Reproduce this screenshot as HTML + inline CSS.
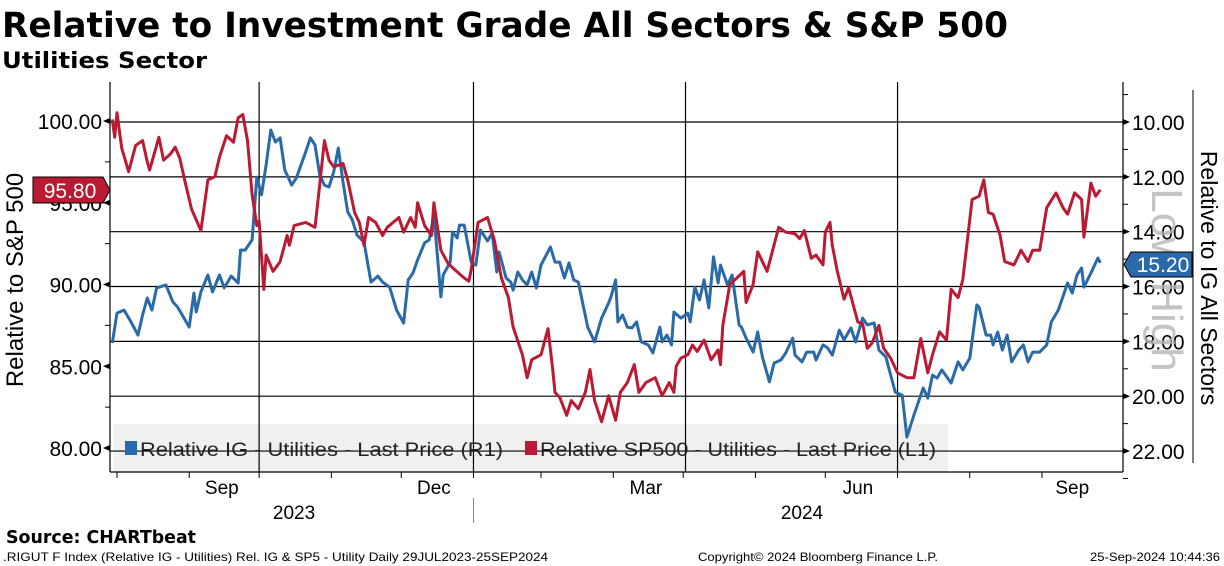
<!DOCTYPE html>
<html><head><meta charset="utf-8"><style>
body{margin:0;background:#fff;}
svg{display:block;font-family:"Liberation Sans","DejaVu Sans",sans-serif;}
</style></head><body>
<svg id="chart" width="1224" height="566" viewBox="0 0 1224 566" xmlns="http://www.w3.org/2000/svg">
<text x="2" y="37" font-size="35" font-weight="bold" font-family="DejaVu Sans, sans-serif" textLength="1006" lengthAdjust="spacingAndGlyphs">Relative to Investment Grade All Sectors &amp; S&amp;P 500</text>
<text x="2" y="68" font-size="22" font-weight="bold" font-family="DejaVu Sans, sans-serif" textLength="205" lengthAdjust="spacingAndGlyphs">Utilities Sector</text>
<rect x="113" y="424" width="835" height="48" rx="3" fill="#f0f0f0"/>
<g id="grid"></g>
<g id="axes"></g>
<g id="series"></g>
<g>
<rect x="125" y="441" width="12" height="14" fill="#2a6aa8"/>
<text x="140" y="456" font-size="19" fill="#222" textLength="363" lengthAdjust="spacingAndGlyphs">Relative IG - Utilities - Last Price (R1)</text>
<rect x="525" y="441" width="12" height="14" fill="#bb1a33"/>
<text x="540" y="456" font-size="19" fill="#222" textLength="396" lengthAdjust="spacingAndGlyphs">Relative SP500 - Utilities - Last Price (L1)</text>
</g>
<text transform="translate(23,280) rotate(-90)" text-anchor="middle" font-size="24">Relative to S&amp;P 500</text>
<text transform="translate(1201,278) rotate(90)" text-anchor="middle" font-size="23">Relative to IG All Sectors</text>
<line x1="1193" y1="90" x2="1193" y2="463" stroke="#000" stroke-width="1"/>
<text transform="translate(1152,280) rotate(90)" text-anchor="middle" font-size="44" fill="#b5b5b5" fill-opacity="0.8">Low  High</text>
<g>
<path d="M33,177 H103 L110,190 L103,203 H33 Z" fill="#bb1a33" stroke="#000" stroke-width="1"/>
<text x="70" y="198" text-anchor="middle" font-size="21" fill="#fff">95.80</text>
</g>
<g>
<path d="M1192,252 H1131 L1124,264.5 L1131,277 H1192 Z" fill="#2a6aa8" stroke="#000" stroke-width="1"/>
<text x="1163" y="272" text-anchor="middle" font-size="21" fill="#fff">15.20</text>
</g>
<text x="6" y="543" font-size="18" font-weight="bold" font-family="DejaVu Sans, sans-serif" textLength="190" lengthAdjust="spacingAndGlyphs">Source: CHARTbeat</text>
<text x="3" y="561" font-size="12" textLength="545" lengthAdjust="spacingAndGlyphs">.RIGUT F Index (Relative IG - Utilities) Rel. IG &amp; SP5 - Utility  Daily 29JUL2023-25SEP2024</text>
<text x="698" y="561" font-size="12" textLength="240" lengthAdjust="spacingAndGlyphs">Copyright© 2024 Bloomberg Finance L.P.</text>
<text x="1090" y="561" font-size="12" textLength="130" lengthAdjust="spacingAndGlyphs">25-Sep-2024 10:44:36</text>
</svg>
<script>
// x: day offset since 29 Jul 2023
const spDays = [1,2,3,5,8,11,14,16,17,21,23,26,28,30,32,35,39,42,45,47,50,53,55,57,59,61,63,64,66,67,70,73,76,77,79,84,88,90,92,94,96,100,102,105,107,109,111,114,117,119,124,126,129,131,132,135,138,139,142,145,148,152,154,155,158,162,165,168,171,173,177,179,181,185,188,190,191,193,196,198,201,204,206,208,211,214,217,219,222,225,227,230,234,237,240,242,243,245,248,250,252,255,258,261,262,263,266,269,272,273,276,278,282,287,290,294,296,298,301,303,306,307,309,310,312,315,317,321,323,325,327,330,332,335,338,342,345,348,351,353,356,359,361,364,366,370,373,375,377,379,382,384,388,391,394,396,399,402,406,409,411,414,417,418,421,423,425];
const spValues = [100.1,99.0,100.5,98.35,96.9,98.5,98.8,97.5,97.0,99.0,97.6,98.0,98.4,97.7,96.4,94.6,93.3,96.4,96.6,97.8,99.1,98.7,100.2,100.4,98.8,95.5,93.6,93.9,89.7,91.8,90.8,91.4,93.0,92.4,93.6,93.8,93.5,96.1,98.8,97.6,97.2,97.4,96.4,94.4,93.8,92.4,94.1,93.8,93.0,93.5,94.1,93.2,94.1,93.5,95.0,93.6,93.0,95.0,92.1,91.3,90.9,90.4,90.2,90.9,93.8,94.1,92.7,90.4,89.2,87.4,85.7,84.3,85.4,85.7,87.3,84.8,83.4,83.1,82.0,82.9,82.4,83.4,84.8,82.9,81.6,83.2,81.7,83.4,84.0,85.1,83.4,84.0,84.3,83.2,84.0,83.4,85.0,85.5,85.7,86.3,85.9,86.6,85.4,86.0,85.1,87.5,90.0,90.4,90.8,88.9,90.0,92.0,90.8,93.5,93.2,93.1,92.8,93.3,91.6,91.8,91.2,93.2,93.8,92.4,90.9,89.1,89.8,87.7,87.6,86.1,86.4,87.5,86.1,85.5,84.6,84.3,84.3,86.7,84.6,85.7,87.1,86.6,89.7,89.2,90.3,95.2,95.4,96.4,94.4,94.3,93.0,91.4,91.2,92.1,91.4,92.1,92.1,94.7,95.6,94.7,94.3,95.6,95.2,92.9,96.2,95.4,95.8];
const igDays = [1,3,6,9,12,14,16,18,20,24,27,29,31,34,36,37,39,42,44,47,49,52,55,56,58,61,63,65,67,69,71,73,75,78,80,84,86,88,90,92,94,96,98,100,102,104,106,109,112,115,117,120,123,126,128,130,132,135,137,139,142,143,146,147,149,150,152,155,157,159,162,164,166,167,170,172,173,175,177,179,181,183,185,189,191,193,195,197,199,201,205,208,211,214,215,217,218,220,222,224,226,228,231,233,236,237,239,241,242,245,248,249,251,253,255,257,259,261,262,265,267,270,271,273,276,278,280,283,285,288,290,293,294,297,299,302,303,306,308,310,313,315,318,320,323,325,328,330,333,337,340,342,345,349,351,353,355,357,361,364,366,369,372,373,376,378,379,381,383,385,387,390,392,394,396,399,402,404,407,411,413,415,417,418,421,424,425];
const igValues = [18.06,16.97,16.86,17.29,17.77,17.04,16.42,16.86,16.05,15.94,16.56,16.75,17.04,17.48,16.24,16.93,16.20,15.58,16.20,15.58,16.05,15.62,15.87,14.67,14.67,14.30,12.01,12.66,11.57,10.29,10.73,10.58,11.75,12.30,12.04,11.09,10.58,10.84,11.93,12.30,12.37,11.82,10.95,12.19,13.28,13.57,14.12,14.38,15.84,15.62,15.84,16.02,16.86,17.33,15.76,15.51,15.03,14.41,14.30,13.39,16.38,15.58,15.11,14.01,14.23,13.76,13.76,15.11,15.22,13.94,14.34,14.05,15.47,14.74,15.69,15.84,16.13,15.47,15.76,15.94,15.47,16.05,15.22,14.56,15.11,15.11,15.69,15.14,15.76,15.84,17.48,18.02,17.15,16.60,16.38,15.76,17.29,17.04,17.48,17.51,17.29,18.02,18.13,18.42,17.48,18.02,17.77,18.13,16.93,17.15,16.97,17.29,16.02,16.49,15.76,16.78,14.92,15.87,15.22,15.94,15.58,17.40,17.48,17.88,18.39,17.66,18.57,19.48,18.79,18.68,18.42,17.88,18.50,18.75,18.39,18.39,18.68,18.13,18.24,18.50,17.59,17.95,17.51,18.02,17.15,17.40,17.33,18.32,18.57,19.85,19.96,21.49,20.69,19.70,20.07,19.23,19.34,19.04,19.52,18.75,19.04,18.61,16.67,16.75,17.77,17.77,18.13,17.66,18.32,17.77,18.75,18.32,18.13,18.75,18.39,18.39,18.13,17.29,16.86,15.87,16.24,15.58,15.32,16.02,15.51,14.96,15.14];
const leftTicks = [100,95,90,85,80];
const leftTickLabels = ["100.00","95.00","90.00","85.00","80.00"];
const rightTicks = [10,12,14,16,18,20,22];
const rightTickLabels = ["10.00","12.00","14.00","16.00","18.00","20.00","22.00"];
const monthDays = [3,34,64,95,125,156,185,216,246,277,307,338,369,400];
const quarterDays = [64,156,247,338];
const monthLabels = ["Sep","Dec","Mar","Jun","Sep"];
const monthLabelDays = [48,139,230,321,413];
const yearLabels = ["2023","2024"];
const yearLabelDays = [79,297];

const NS="http://www.w3.org/2000/svg";
const X0=110, XR=1123, YT=82, YB=472;
const xS = d => 110 + d*2.33;
const yL = v => 121 + (100-v)*16.35;
const yR = v => 122 + (v-10)*27.42;
function mk(tag, attrs, parent){const e=document.createElementNS(NS,tag);for(const k in attrs)e.setAttribute(k,attrs[k]);parent.appendChild(e);return e;}
const grid=document.getElementById('grid'), axes=document.getElementById('axes'), ser=document.getElementById('series');

rightTicks.forEach((v,i)=>{
  const y=yR(v);
  const g=mk('line',{x1:X0,y1:y,x2:XR,y2:y,stroke:'#000','stroke-width':1.2},grid);
  
  
  const a=mk('path',{d:`M${XR},${y-3} L${XR+7},${y} L${XR},${y+3} Z`,fill:'#000'},axes);
  
  
  const t=mk('text',{x:XR+9,y:y+8,'font-size':21},axes);
  t.textContent=rightTickLabels[i];
  
  
  const ym=yR(v+1);const m=mk('line',{x1:XR,y1:ym,x2:XR+5,y2:ym,stroke:'#000'},axes);
  
  
});
{const ym=yR(9);const m=mk('line',{x1:XR,y1:ym,x2:XR+5,y2:ym,stroke:'#000'},axes);

}
quarterDays.forEach(d=>{
  const x=xS(d);
  const g=mk('line',{x1:x,y1:YT,x2:x,y2:YB,stroke:'#000','stroke-width':1.2},grid);
  
  
});
const la=mk('line',{x1:X0,y1:YT,x2:X0,y2:YB,stroke:'#000','stroke-width':1.2},axes);


const ra=mk('line',{x1:XR,y1:YT,x2:XR,y2:YB,stroke:'#000','stroke-width':1.2},axes);


const xa=mk('line',{x1:X0,y1:YB,x2:XR,y2:YB,stroke:'#000','stroke-width':1.2},axes);


leftTicks.forEach((v,i)=>{
  const y=yL(v);
  const a=mk('path',{d:`M${X0},${y-3} L${X0-7},${y} L${X0},${y+3} Z`,fill:'#000'},axes);
  
  
  const t=mk('text',{x:X0-8,y:y+8,'font-size':21,'text-anchor':'end'},axes);
  t.textContent=leftTickLabels[i];
  
  
  if(i<leftTicks.length-1){const ym=yL(v-2.5);const m=mk('line',{x1:X0-5,y1:ym,x2:X0,y2:ym,stroke:'#000'},axes);
  
  }
});
monthDays.forEach(d=>{
  const x=xS(d);
  const m=mk('line',{x1:x,y1:YB,x2:x,y2:YB+6,stroke:'#000'},axes);
  
  
});
monthLabels.forEach((s,i)=>{
  const t=mk('text',{x:xS(monthLabelDays[i]),y:494,'font-size':19,'text-anchor':'middle'},axes);
  t.textContent=s;
  
  
});
yearLabels.forEach((s,i)=>{
  const t=mk('text',{x:xS(yearLabelDays[i]),y:519,'font-size':19,'text-anchor':'middle'},axes);
  t.textContent=s;
  
  
});
const ys=mk('line',{x1:xS(156),y1:498,x2:xS(156),y2:523,stroke:'#888'},axes);



const igPts=igDays.map((d,i)=>xS(d).toFixed(1)+','+yR(igValues[i]).toFixed(1)).join(' ');
const igLine=mk('polyline',{points:igPts,fill:'none',stroke:'#2a6aa8','stroke-width':3,'stroke-linejoin':'round'},ser);


const spPts=spDays.map((d,i)=>xS(d).toFixed(1)+','+yL(spValues[i]).toFixed(1)).join(' ');
const spLine=mk('polyline',{points:spPts,fill:'none',stroke:'#bb1a33','stroke-width':3,'stroke-linejoin':'round'},ser);


</script>
</body></html>
